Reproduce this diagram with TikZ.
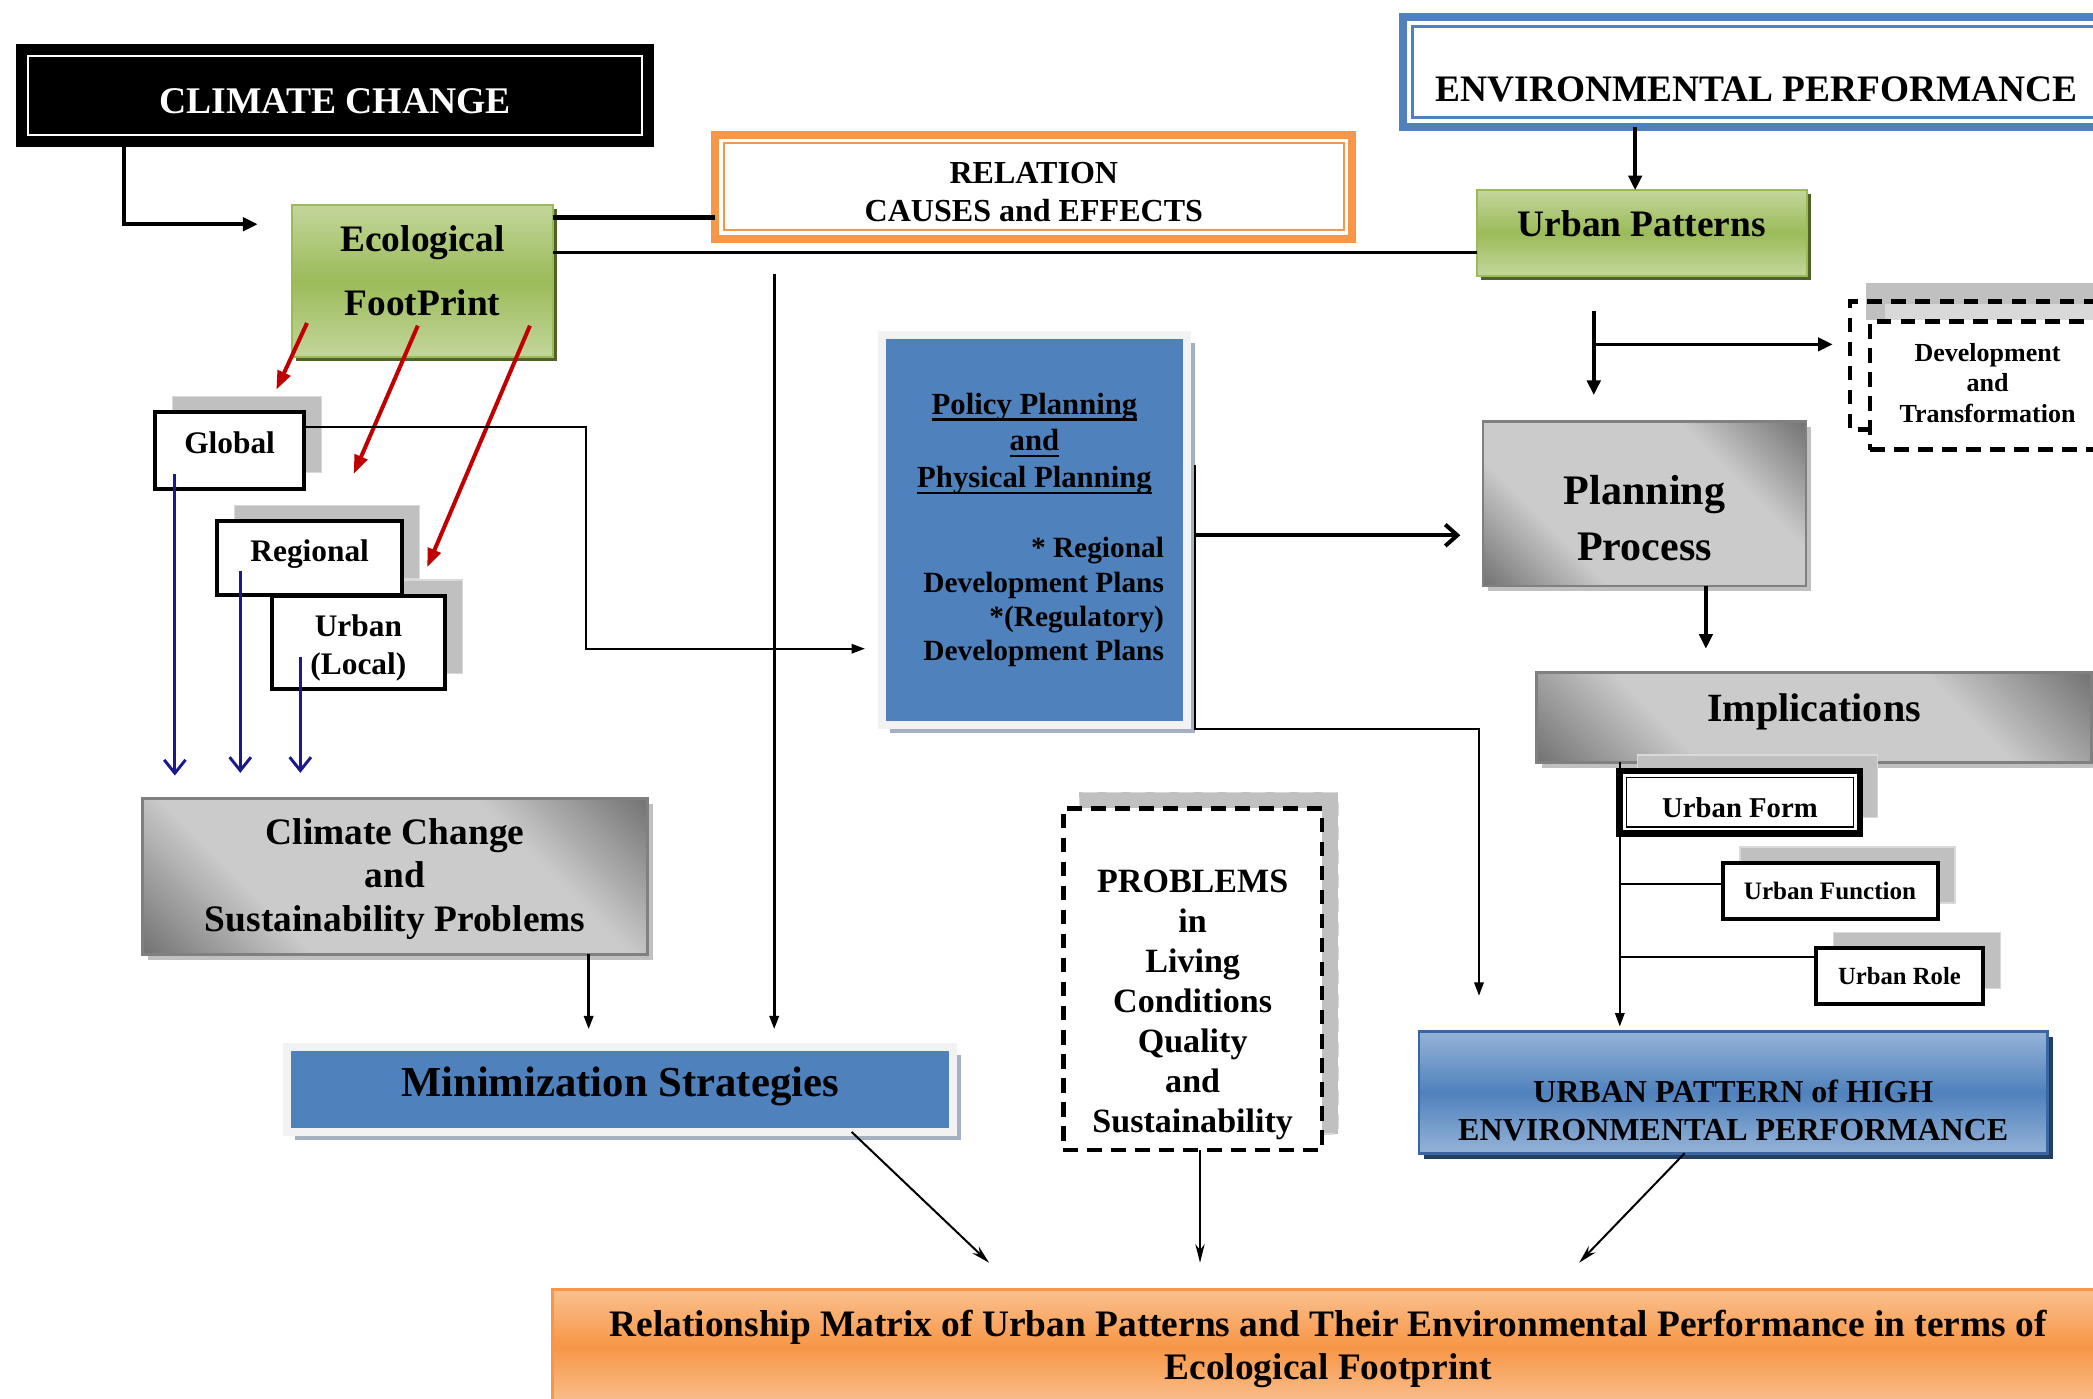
\documentclass[tikz,border=0pt]{standalone}
\usepackage{fontspec}
\setmainfont{Liberation Serif}
\usetikzlibrary{arrows.meta,shadows,calc}
\newcommand\fs[2]{\fontsize{#1}{#2}\selectfont\bfseries}
\newcommand\upby[2]{\raisebox{#1}[\height][\depth]{#2}}
\newcommand\lines[1]{\begin{tabular}{@{}c@{}}#1\end{tabular}}
\newcommand\ulx[1]{\setbox0\hbox{#1}\leavevmode\rlap{\rule[-5pt]{\wd0}{2pt}}\box0}
\definecolor{pblue}{HTML}{4F81BD}
\definecolor{lblue}{HTML}{95B3D7}
\definecolor{dblue}{HTML}{3A67A3}
\definecolor{navyshadow}{HTML}{243F60}
\definecolor{gtop}{HTML}{C3D69B}
\definecolor{gmid}{HTML}{9BBB59}
\definecolor{gborder}{HTML}{9BBB59}
\definecolor{gshadow}{HTML}{4F6228}
\definecolor{ora}{HTML}{F79646}
\definecolor{oralight}{HTML}{FAC08F}
\definecolor{greydark}{HTML}{666666}
\definecolor{greylight}{HTML}{CBCBCB}
\definecolor{greyborder}{HTML}{808080}
\definecolor{shadowgrey}{HTML}{C0C0C0}
\definecolor{shadowline}{HTML}{D9D9D9}
\definecolor{frameg}{HTML}{F2F2F2}
\definecolor{pshadow}{HTML}{A5B0C3}
\definecolor{redarr}{HTML}{C00000}
\definecolor{bluearr}{HTML}{1A1A8C}
\pgfdeclareverticalshading{greyband}{100bp}{color(0bp)=(greydark); color(12bp)=(greydark); color(33bp)=(greylight); color(67bp)=(greylight); color(88bp)=(greydark); color(100bp)=(greydark)}
\begin{document}
\begin{tikzpicture}[x=1pt,y=-1pt,
  base/.style={inner sep=0pt, outer sep=0pt, align=center},
  greyshadow/.style={general shadow={fill=shadowgrey, draw=shadowline, line width=1pt, shadow xshift=13pt, shadow yshift=12pt}},
  whitebox/.style={base, fill=white, draw=black, line width=3pt},
  greybox/.style={base, draw=greyborder, line width=2pt, shade, shading=greyband, shading angle=-45, general shadow={fill=shadowgrey, shadow xshift=4pt, shadow yshift=-4pt}},
  greenbox/.style={base, top color=gtop, bottom color=gtop, middle color=gmid, draw=gborder, line width=1.5pt, general shadow={fill=gshadow, shadow xshift=3pt, shadow yshift=-3pt}},
  dashbox/.style={base, fill=white, draw=black, line width=3.5pt, dash pattern=on 11pt off 7pt},
  tri/.style={-{Triangle[length=11pt,width=10pt]}},
  trismall/.style={-{Triangle[length=10pt,width=7pt]}},
  trinarrow/.style={-{Stealth[length=14pt,width=7pt]}},
  openv/.style={-{Straight Barb[length=9pt,width=16pt]}},
  redline/.style={draw=redarr, line width=3pt, -{Triangle[length=14pt,width=10pt]}},
  blueline/.style={draw=bluearr, line width=2.2pt, -{Straight Barb[length=10pt,width=16pt]}}
]
\useasboundingbox (0,0) rectangle (1568,1048);
\clip (0,0) rectangle (1568,1048);
\fill[white] (0,0) rectangle (1568,1048);

% ---------- top boxes ----------
\node[base, fill=black, draw=black, line width=2pt, minimum width=476pt, minimum height=75pt, text=white, font={\fs{28.2}{30}}] (cc) at (251,71.5) {\upby{-4pt}{CLIMATE CHANGE}};
\draw[white, line width=1.8pt] ([shift={(8,8)}]cc.north west) rectangle ([shift={(-8,-8)}]cc.south east);

\node[base, fill=white, draw=pblue, line width=6pt, minimum width=530pt, minimum height=82pt, font={\fs{28}{30}}] (env) at (1316,54) {\upby{-13pt}{ENVIRONMENTAL PERFORMANCE}};
\draw[pblue, line width=2pt] ([shift={(7,7)}]env.north west) rectangle ([shift={(-7,-7)}]env.south east);

\node[base, fill=white, draw=ora, line width=6pt, minimum width=477pt, minimum height=78pt, font={\fs{24}{28}}] (rel) at (774.5,140) {\upby{-6pt}{\lines{RELATION\\CAUSES and EFFECTS}}};
\draw[ora, line width=1.5pt] ([shift={(6.5,6.5)}]rel.north west) rectangle ([shift={(-6.5,-6.5)}]rel.south east);

\node[greenbox, minimum width=247pt, minimum height=64pt, font={\fs{28}{30}}] (up) at (1230,174.5) {\upby{7pt}{Urban Patterns}};
\node[greenbox, minimum width=196pt, minimum height=114pt, font={\fs{28}{48}}] (eco) at (316.5,210.5) {\upby{8pt}{\lines{Ecological\\FootPrint}}};

% ---------- scale boxes ----------
\node[whitebox, greyshadow, minimum width=112pt, minimum height=57pt, font={\fs{23.5}{28}}] (glob) at (172,337.5) {\upby{6pt}{Global}};
\node[whitebox, greyshadow, minimum width=130pt, minimum height=70pt, font={\fs{23.5}{28}}] (urb) at (268.5,481.5) {\upby{-4pt}{\lines{Urban\\(Local)}}};
\node[whitebox, greyshadow, minimum width=139pt, minimum height=55pt, font={\fs{23.5}{28}}] (reg) at (232,418) {\upby{3pt}{Regional}};

% ---------- policy box ----------
\node[base, fill=pblue, draw=frameg, line width=6pt, minimum width=228pt, minimum height=292pt, general shadow={fill=pshadow, shadow xshift=6pt, shadow yshift=-6pt}] (pol) at (775,397) {\parbox{194pt}{%
 {\fs{23}{27.5}\centering\ulx{Policy Planning}\\\ulx{and}\\\ulx{Physical Planning}\par}%
 \vspace{27pt}%
 {\fs{22}{25.7}\raggedleft * Regional\\Development Plans\\{*}(Regulatory)\\Development Plans\par}}};

% ---------- right column ----------
\node[greybox, minimum width=242pt, minimum height=123pt, font={\fs{31.5}{42}}] (pp) at (1232,377.5) {\upby{-13pt}{\lines{Planning\\Process}}};

\fill[shadowgrey] (1398,212) rectangle (1590,240);
\fill[shadowline] (1412,228) rectangle (1590,240);
\draw[line width=3.5pt, dash pattern=on 11pt off 7pt] (1590,226) -- (1386,226) -- (1386,322) -- (1400,322);
\node[dashbox, minimum width=176pt, minimum height=96pt, font={\fs{19.5}{23}}] (dev) at (1489,289) {\lines{Development\\and\\Transformation}};

\node[greybox, minimum width=416pt, minimum height=67pt, font={\fs{30}{32}}] (impl) at (1359,537.5) {\upby{4pt}{Implications}};

\node[base, fill=white, draw=black, line width=5pt, greyshadow, minimum width=180pt, minimum height=47pt, font={\fs{21.5}{24}}] (uf) at (1303.5,601) {\upby{-4pt}{Urban Form}};
\draw[line width=1.2pt] ([shift={(5,5)}]uf.north west) rectangle ([shift={(-5,-5)}]uf.south east);
\node[whitebox, greyshadow, minimum width=161pt, minimum height=42pt, font={\fs{18.8}{22}}] (ufn) at (1371,667.5) {Urban Function};
\node[whitebox, greyshadow, minimum width=125pt, minimum height=42pt, font={\fs{18.5}{22}}] (ur) at (1423,731.5) {Urban Role};

\node[base, top color=lblue, bottom color=lblue, middle color=pblue, draw=dblue, line width=2pt, minimum width=471pt, minimum height=91pt, general shadow={fill=navyshadow, shadow xshift=4pt, shadow yshift=-4pt}, font={\fs{24}{28}}] (upat) at (1298.5,818.5) {\upby{-16pt}{\lines{URBAN PATTERN of HIGH\\ENVIRONMENTAL PERFORMANCE}}};

% ---------- lower left ----------
\node[greybox, minimum width=378pt, minimum height=117pt, font={\fs{28}{32.5}}] (ccsp) at (296,656.5) {\upby{-2pt}{\lines{Climate Change\\and\\Sustainability Problems}}};

\node[base, fill=pblue, draw=frameg, line width=6pt, minimum width=499pt, minimum height=64pt, general shadow={fill=pshadow, shadow xshift=6pt, shadow yshift=-6pt}, font={\fs{32}{34}}] (min) at (464.5,816) {\upby{2pt}{Minimization Strategies}};

\node[dashbox, general shadow={fill=shadowgrey, draw=shadowline, line width=1pt, shadow xshift=12pt, shadow yshift=12pt}, minimum width=194pt, minimum height=256pt, font={\fs{25.5}{30}}] (prob) at (893.5,733.5) {\upby{-19pt}{\lines{PROBLEMS\\in\\Living\\Conditions\\Quality\\and\\Sustainability}}};

\node[base, top color=oralight, bottom color=oralight, middle color=ora, draw=ora, line width=2pt, minimum width=1162pt, minimum height=86pt, font={\fs{28}{32}}] (rm) at (995,1009) {\upby{-2pt}{\lines{Relationship Matrix of Urban Patterns and Their Environmental Performance in terms of\\Ecological Footprint}}};

% ---------- free connector ends ----------
\coordinate (ccend) at (193,168);
\coordinate (rv) at (580,205);
\coordinate (r1s) at (230,242); \coordinate (r1e) at (207,292);
\coordinate (r2s) at (313,244); \coordinate (r2e) at (265,355);
\coordinate (r3s) at (397,244); \coordinate (r3e) at (320,425);
\coordinate (b1s) at (131,355);
\coordinate (b2s) at (180,428);
\coordinate (b3s) at (225,492);
\coordinate (gp) at (439,486);
\coordinate (pr) at (895,348);
\coordinate (pd) at (1108,546);
\coordinate (us) at (1194,233);
\coordinate (m1) at (741,946);
\coordinate (m3) at (1183,946);

% ---------- connectors ----------
\draw[line width=3pt, tri] (cc.south -| 93,0) |- (ccend);
\draw[line width=3.5pt] (eco.east |- 0,163) -- (rel.west |- 0,163);
\draw[line width=2.5pt] (eco.east |- 0,189) -- (up.west |- 0,189);
\draw[line width=3pt, tri] (env.south -| 1225,0) -- (up.north -| 1225,0);
\draw[line width=2pt, trismall, shorten >=13pt] (rv) -- (min.north -| rv);

\draw[redline] (r1s) -- (r1e);
\draw[redline] (r2s) -- (r2e);
\draw[redline] (r3s) -- (r3e);

\draw[blueline, shorten >=17pt] (b1s) -- (ccsp.north -| b1s);
\draw[blueline, shorten >=19pt] (b2s) -- (ccsp.north -| b2s);
\draw[blueline, shorten >=19pt] (b3s) -- (ccsp.north -| b3s);

\draw[line width=1.5pt, trismall, shorten >=13pt] (glob.east |- 0,320) -| (gp) -- (pol.west |- gp);
\draw[line width=1.5pt, trismall, shorten >=27pt] (pr) |- (pd) -- (upat.north -| pd);
\draw[line width=3pt, openv, shorten >=17pt, shorten <=6pt] (pol.east |- 0,401) -- (pp.west |- 0,401);

\draw[line width=3pt, tri, shorten >=20pt] (us) -- (pp.north -| us);
\draw[line width=2.5pt, tri, shorten >=28pt] (us |- 0,258) -- (dev.west |- 0,258);
\draw[line width=3pt, tri, shorten >=18pt] (pp.south -| 1278,0) -- (impl.north -| 1278,0);

\draw[line width=1.5pt, trismall, shorten >=4pt] (impl.south -| uf.west) -- (upat.north -| uf.west);
\draw[line width=1.5pt] (uf.west |- 0,662) -- (ufn.west |- 0,662);
\draw[line width=1.5pt] (uf.west |- 0,717) -- (ur.west |- 0,717);

\draw[line width=2pt, trismall, shorten >=13pt] (ccsp.south -| 441,0) -- (min.north -| 441,0);
\draw[line width=1.5pt, trinarrow] (min.south -| 638,0) -- (m1);
\draw[line width=1.5pt, trinarrow, shorten >=20pt] (prob.south -| 899,0) -- (rm.north -| 899,0);
\draw[line width=1.5pt, trinarrow] (upat.south -| 1262,0) -- (m3);
\end{tikzpicture}
\end{document}
